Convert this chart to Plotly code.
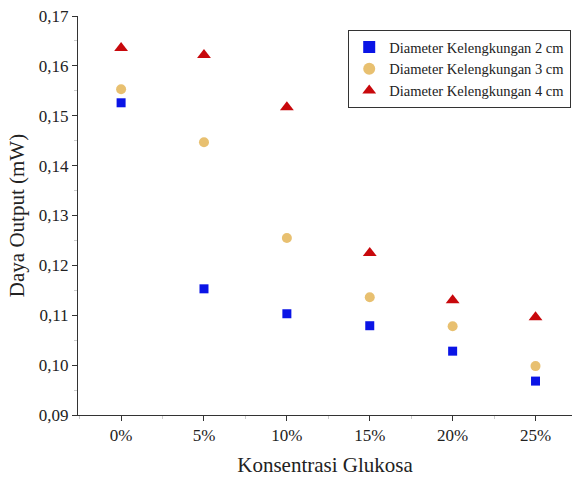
import plotly.graph_objects as go

konsentrasi = [0, 5, 10, 15, 20, 25]
tick_labels = ["0%", "5%", "10%", "15%", "20%", "25%"]
d2cm = [0.1526, 0.1153, 0.1103, 0.1079, 0.1028, 0.0968]
d3cm = [0.1553, 0.1447, 0.1255, 0.1136, 0.1078, 0.0998]
d4cm = [0.1636, 0.1622, 0.1517, 0.1225, 0.1130, 0.1096]

font_family = "Liberation Serif"

fig = go.Figure()
fig.add_trace(go.Scatter(x=konsentrasi, y=d2cm, mode="markers", name="Diameter Kelengkungan 2 cm",
                         marker=dict(symbol="square", size=9, color="#0a14e6")))
fig.add_trace(go.Scatter(x=konsentrasi, y=d3cm, mode="markers", name="Diameter Kelengkungan 3 cm",
                         marker=dict(symbol="circle", size=10, color="#e8c070")))
fig.add_trace(go.Scatter(x=konsentrasi, y=d4cm, mode="markers", name="Diameter Kelengkungan 4 cm",
                         marker=dict(symbol="triangle-up", size=12, color="#c8080c")))

fig.update_layout(
    width=574, height=481,
    margin=dict(l=78, r=2, t=16, b=66),
    plot_bgcolor="white", paper_bgcolor="white",
    separators=",.",
    font=dict(family=font_family, color="#222", size=17),
    showlegend=True,
    legend=dict(x=0.547, y=0.965, xanchor="left", yanchor="top",
                bordercolor="#333", borderwidth=1, bgcolor="white",
                font=dict(family=font_family, size=14.5, color="#222"),
                tracegroupgap=0, itemsizing="constant"),
)
fig.update_xaxes(
    range=[-2.6, 27.2], tickmode="array", tickvals=konsentrasi, ticktext=tick_labels,
    showline=True, linecolor="#333", linewidth=1, showgrid=False, zeroline=False,
    ticks="outside", ticklen=5, tickcolor="#333", automargin=False,
    minor=dict(dtick=2.5, tick0=0, ticks="outside", ticklen=3, tickcolor="#ccc", showgrid=False),
    title=dict(text="Konsentrasi Glukosa", font=dict(size=21, family=font_family), standoff=12),
    tickfont=dict(size=17), ticklabeloverflow="allow",
)
fig.update_yaxes(
    range=[0.09, 0.17], dtick=0.01, tick0=0.09, tickformat=".2f",
    showline=True, linecolor="#333", linewidth=1, showgrid=False, zeroline=False,
    ticks="outside", ticklen=5, tickcolor="#333", automargin=False,
    minor=dict(dtick=0.005, ticks="outside", ticklen=3, tickcolor="#ccc", showgrid=False),
    title=dict(text="Daya Output (mW)", font=dict(size=21, family=font_family), standoff=8),
    tickfont=dict(size=17), ticklabeloverflow="allow",
)

# remove the browser's default 8px body margin so the figure fills the window
fig.write_html("out.html", config={"displayModeBar": False},
               post_script="document.body.style.margin='0';document.body.style.overflow='hidden';")
